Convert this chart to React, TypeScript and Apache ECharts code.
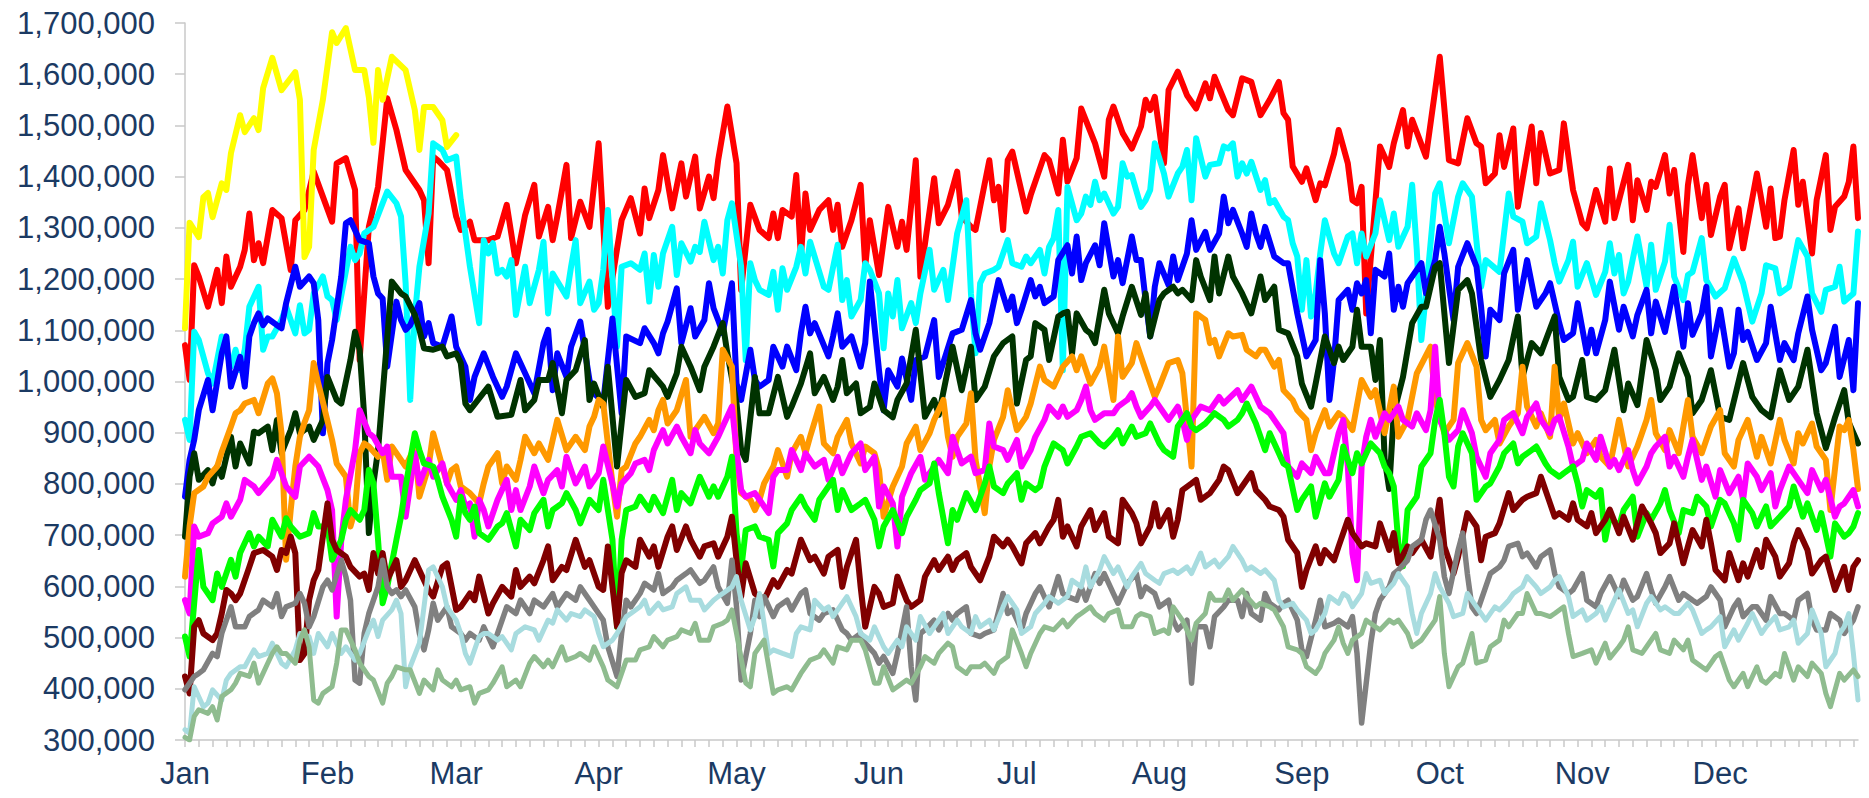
import React, { useEffect, useRef } from "react";
import * as echarts from "echarts";

// Month labels and the day-of-year on which each month starts
const MONTHS = ["Jan", "Feb", "Mar", "Apr", "May", "Jun", "Jul", "Aug", "Sep", "Oct", "Nov", "Dec"];
const MONTH_START_DAYS = [0, 31, 59, 90, 120, 151, 181, 212, 243, 273, 304, 334];

// Each series: [day of year, value in thousands]
const yellowData = [[0,1104],[1,1310],[3,1282],[4,1360],[5,1368],[6,1321],[8,1387],[9,1374],[10,1446],[12,1520],[13,1487],[15,1514],[16,1491],[17,1573],[19,1632],[21,1569],[24,1604],[25,1550],[26,1243],[27,1263],[28,1452],[30,1550],[32,1682],[33,1661],[35,1690],[37,1608],[39,1608],[40,1555],[41,1466],[42,1608],[43,1550],[45,1634],[48,1608],[50,1530],[51,1452],[52,1536],[54,1536],[56,1510],[57,1458],[59,1481]];

const redData = [[0,1071],[1,1003],[2,1227],[3,1205],[5,1146],[7,1218],[8,1153],[9,1244],[10,1185],[12,1224],[13,1257],[14,1328],[15,1237],[16,1270],[17,1231],[19,1335],[21,1319],[23,1218],[24,1315],[26,1335],[28,1410],[30,1361],[32,1312],[33,1426],[35,1436],[37,1374],[38,1042],[40,1302],[42,1380],[44,1553],[46,1491],[48,1413],[51,1374],[52,1354],[53,1231],[54,1439],[55,1432],[57,1413],[59,1322],[60,1296],[62,1312],[63,1276],[66,1276],[68,1283],[70,1345],[72,1231],[74,1325],[76,1384],[77,1283],[79,1341],[80,1276],[81,1322],[83,1423],[84,1280],[86,1351],[88,1302],[90,1465],[92,1146],[95,1315],[97,1358],[99,1289],[100,1377],[101,1319],[103,1374],[104,1442],[106,1338],[108,1426],[109,1361],[111,1439],[112,1338],[114,1400],[115,1358],[116,1432],[118,1537],[120,1426],[121,1179],[123,1345],[125,1296],[127,1280],[128,1328],[129,1280],[130,1335],[132,1322],[133,1403],[134,1244],[135,1367],[136,1296],[138,1335],[140,1354],[141,1296],[142,1345],[143,1263],[145,1315],[147,1384],[148,1224],[149,1315],[151,1208],[153,1341],[155,1263],[156,1312],[157,1257],[159,1432],[160,1205],[163,1397],[164,1309],[166,1345],[168,1410],[169,1322],[171,1302],[172,1296],[175,1432],[176,1354],[177,1380],[178,1296],[179,1432],[180,1449],[183,1332],[184,1364],[187,1442],[188,1432],[190,1367],[191,1472],[192,1390],[194,1436],[195,1533],[198,1465],[200,1400],[201,1511],[202,1537],[204,1485],[206,1455],[208,1498],[209,1550],[210,1530],[211,1556],[213,1426],[214,1569],[216,1605],[218,1559],[220,1533],[222,1582],[223,1553],[224,1595],[227,1530],[228,1520],[230,1592],[232,1585],[234,1520],[236,1550],[238,1585],[239,1524],[240,1511],[241,1420],[243,1390],[244,1416],[246,1354],[247,1387],[248,1383],[250,1445],[251,1491],[253,1426],[254,1354],[255,1348],[256,1380],[257,1133],[260,1459],[262,1419],[263,1465],[265,1530],[266,1459],[267,1511],[270,1439],[273,1634],[275,1432],[277,1426],[279,1514],[281,1465],[282,1459],[283,1387],[285,1406],[286,1481],[287,1419],[289,1494],[290,1341],[293,1498],[294,1387],[295,1485],[297,1406],[299,1413],[300,1504],[302,1374],[304,1309],[305,1299],[307,1374],[309,1312],[310,1416],[311,1319],[314,1423],[315,1315],[316,1393],[318,1335],[319,1390],[320,1380],[322,1442],[323,1367],[324,1413],[326,1253],[327,1384],[328,1442],[330,1319],[331,1384],[332,1286],[334,1361],[335,1384],[336,1260],[338,1338],[339,1260],[342,1406],[344,1302],[345,1377],[346,1280],[347,1283],[348,1354],[350,1452],[351,1345],[352,1390],[354,1250],[355,1354],[357,1442],[358,1296],[359,1341],[361,1361],[362,1390],[363,1459],[364,1319]];

const cyanData = [[0,925],[1,886],[2,1097],[3,1081],[5,1016],[6,996],[7,1042],[8,1088],[10,1029],[11,1062],[12,1022],[13,1062],[14,1146],[16,1185],[17,1062],[18,1088],[19,1088],[21,1120],[22,1146],[24,1094],[25,1149],[26,1094],[27,1101],[28,1172],[30,1205],[31,1166],[32,1159],[33,1120],[36,1263],[37,1237],[38,1250],[39,1289],[41,1302],[43,1348],[44,1371],[46,1348],[47,1322],[48,1192],[49,964],[50,1127],[51,1224],[53,1328],[54,1465],[56,1452],[57,1432],[59,1439],[60,1354],[62,1224],[64,1114],[65,1276],[66,1250],[67,1270],[68,1211],[69,1218],[70,1205],[71,1237],[72,1130],[74,1224],[75,1153],[77,1218],[78,1273],[79,1133],[80,1211],[83,1166],[84,1224],[85,1276],[86,1153],[88,1195],[89,1140],[90,1153],[91,1218],[92,1335],[94,1068],[95,1224],[97,1231],[99,1218],[100,1250],[101,1156],[102,1247],[103,1185],[104,1250],[106,1302],[107,1208],[108,1270],[110,1234],[111,1263],[112,1253],[113,1312],[115,1237],[116,1263],[117,1211],[118,1315],[119,1348],[121,1224],[122,1042],[123,1231],[124,1198],[125,1179],[127,1169],[128,1214],[129,1140],[130,1221],[131,1179],[133,1224],[134,1263],[135,1211],[136,1273],[139,1185],[140,1179],[142,1267],[143,1159],[144,1198],[145,1127],[147,1159],[148,1231],[149,1218],[151,1172],[152,1065],[153,1172],[154,1127],[155,1198],[156,1104],[158,1153],[159,1114],[160,1172],[162,1257],[163,1179],[165,1218],[166,1159],[168,1289],[170,1354],[171,1172],[172,1055],[173,1192],[174,1211],[176,1218],[177,1224],[179,1276],[180,1231],[182,1224],[183,1244],[184,1231],[186,1257],[187,1211],[188,1263],[189,1280],[190,1335],[191,1022],[192,1380],[194,1315],[195,1328],[196,1361],[197,1345],[198,1390],[199,1354],[200,1367],[202,1328],[203,1341],[204,1426],[205,1400],[206,1403],[208,1341],[209,1354],[210,1374],[211,1465],[213,1406],[214,1361],[216,1406],[217,1419],[218,1452],[219,1354],[220,1475],[222,1400],[223,1423],[225,1426],[226,1459],[227,1455],[228,1465],[229,1400],[230,1426],[231,1406],[232,1429],[234,1374],[235,1393],[236,1348],[237,1354],[239,1322],[240,1315],[241,1270],[242,1244],[243,1140],[244,1237],[245,1127],[246,1172],[247,1250],[248,1315],[250,1250],[251,1231],[253,1283],[254,1289],[255,1231],[256,1289],[257,1244],[259,1289],[260,1354],[262,1276],[263,1328],[264,1263],[266,1302],[267,1384],[268,1257],[269,1081],[270,1172],[272,1367],[273,1387],[275,1270],[277,1361],[278,1387],[280,1361],[282,1185],[283,1237],[286,1214],[288,1367],[289,1322],[291,1312],[292,1270],[294,1283],[295,1348],[297,1276],[298,1231],[299,1195],[301,1237],[302,1273],[303,1185],[305,1231],[307,1169],[309,1214],[310,1270],[311,1211],[312,1247],[313,1172],[314,1195],[316,1283],[318,1185],[319,1267],[320,1179],[322,1234],[323,1306],[324,1205],[326,1159],[327,1208],[328,1214],[330,1280],[331,1198],[333,1166],[335,1182],[337,1240],[339,1192],[341,1117],[343,1172],[344,1227],[346,1221],[347,1172],[349,1185],[351,1276],[353,1244],[354,1172],[356,1136],[357,1179],[359,1185],[360,1224],[361,1156],[363,1172],[364,1293]];

const blueData = [[0,775],[1,847],[2,886],[3,944],[5,1003],[6,944],[8,1055],[9,1088],[10,990],[12,1048],[13,990],[14,1088],[15,1114],[16,1133],[17,1110],[18,1123],[20,1110],[21,1104],[22,1153],[24,1224],[25,1185],[27,1205],[28,1192],[29,1120],[30,899],[31,1036],[32,1081],[34,1205],[35,1309],[36,1315],[38,1276],[40,1270],[41,1205],[42,1172],[43,1162],[44,1029],[46,1156],[47,1120],[48,1101],[49,1110],[51,1153],[52,1088],[53,1114],[54,1075],[56,1068],[58,1127],[59,1068],[61,1029],[62,964],[63,1009],[65,1055],[67,1009],[69,970],[70,990],[72,1055],[74,1016],[76,977],[78,1075],[79,1101],[80,983],[81,1055],[83,1009],[84,1068],[86,1117],[88,1003],[89,977],[91,960],[93,1123],[95,938],[96,1088],[99,1075],[100,1104],[102,1075],[103,1055],[104,1094],[105,1117],[107,1182],[108,1075],[110,1143],[111,1088],[113,1120],[114,1192],[115,1143],[116,1120],[117,1094],[119,1192],[120,996],[121,964],[123,1062],[124,1003],[125,990],[127,1003],[128,1068],[130,1029],[131,1068],[133,1022],[134,1094],[135,1146],[136,1094],[137,1114],[140,1049],[141,1088],[142,1133],[143,1068],[145,1088],[147,1029],[148,1075],[149,1195],[151,1022],[152,944],[153,1022],[155,990],[156,1045],[158,964],[159,1042],[161,1049],[163,1120],[164,1009],[167,1094],[169,1101],[171,1159],[172,1094],[173,1062],[175,1114],[177,1198],[179,1140],[180,1166],[181,1114],[182,1140],[184,1198],[185,1166],[186,1185],[187,1153],[189,1166],[190,1237],[192,1266],[193,1211],[194,1283],[195,1198],[196,1231],[198,1266],[199,1227],[200,1309],[202,1205],[203,1237],[204,1192],[206,1283],[207,1237],[208,1237],[209,1159],[210,1088],[211,1185],[212,1231],[214,1188],[215,1244],[216,1198],[218,1250],[219,1315],[220,1257],[222,1292],[223,1257],[225,1289],[226,1361],[227,1309],[228,1335],[230,1289],[231,1263],[232,1328],[233,1289],[234,1263],[235,1302],[237,1244],[239,1231],[240,1231],[242,1133],[244,1049],[246,1081],[247,1237],[248,1133],[249,964],[250,1042],[251,1159],[253,1179],[254,1140],[255,1192],[256,1172],[257,1198],[258,1094],[259,1218],[261,1205],[262,1250],[263,1140],[264,1185],[265,1146],[266,1192],[269,1231],[270,1172],[272,1237],[273,1302],[274,1250],[276,1120],[277,1224],[279,1270],[281,1224],[282,1146],[283,1049],[284,1140],[286,1120],[287,1211],[289,1257],[290,1140],[292,1237],[294,1146],[296,1172],[297,1192],[299,1114],[300,1081],[302,1094],[303,1153],[305,1055],[306,1101],[307,1055],[309,1120],[310,1195],[312,1101],[313,1146],[315,1088],[316,1130],[318,1179],[319,1094],[320,1156],[322,1097],[324,1185],[326,1068],[327,1153],[328,1091],[330,1133],[331,1185],[332,1049],[334,1140],[336,1029],[337,1055],[338,1140],[339,1081],[340,1097],[342,1042],[344,1075],[345,1146],[347,1042],[348,1075],[350,1042],[351,1094],[353,1166],[354,1101],[356,1022],[357,1036],[359,1107],[360,1009],[362,1081],[363,983],[364,1153]];

const darkGreenData = [[0,697],[1,814],[2,860],[3,808],[5,827],[6,801],[7,834],[8,814],[10,892],[11,834],[12,879],[14,840],[15,902],[16,899],[18,912],[19,866],[20,925],[21,860],[23,905],[24,938],[25,899],[27,912],[28,886],[30,925],[31,1009],[33,964],[34,957],[36,1042],[37,1097],[38,1062],[39,931],[40,704],[41,801],[42,866],[45,1195],[47,1172],[48,1166],[50,1130],[51,1101],[52,1065],[54,1062],[56,1068],[57,1049],[59,1055],[60,1036],[61,957],[62,944],[66,990],[68,931],[71,935],[73,1003],[74,944],[76,964],[77,1003],[79,1003],[80,1036],[82,938],[83,1003],[85,1022],[87,1081],[88,964],[89,996],[91,950],[92,1029],[94,834],[96,1003],[98,970],[100,977],[101,1022],[104,990],[105,970],[107,1016],[108,1068],[110,1029],[112,983],[113,1029],[115,1068],[117,1114],[118,1055],[120,957],[121,866],[122,847],[124,1009],[125,938],[127,938],[129,1009],[131,931],[132,951],[134,996],[136,1055],[137,977],[139,1009],[141,964],[142,990],[143,1042],[144,977],[146,996],[147,938],[149,950],[150,996],[152,944],[154,930],[155,964],[157,996],[159,1101],[161,931],[163,964],[164,935],[167,1068],[169,983],[171,1068],[172,964],[174,990],[176,1049],[178,1075],[180,1088],[181,957],[183,1042],[184,1049],[185,1114],[187,1101],[188,1042],[190,1127],[191,1133],[192,1136],[193,1055],[194,1133],[196,1101],[197,1094],[198,1075],[200,1179],[201,1133],[203,1094],[204,1127],[206,1185],[208,1130],[209,1172],[210,1088],[212,1159],[213,1172],[215,1185],[216,1172],[217,1179],[219,1159],[220,1237],[221,1205],[223,1159],[224,1244],[225,1172],[227,1244],[228,1205],[230,1172],[232,1133],[234,1205],[235,1159],[237,1185],[238,1101],[240,1094],[242,1049],[243,996],[245,951],[246,996],[248,1088],[250,1036],[251,1068],[252,1042],[254,1068],[255,1140],[256,1068],[258,1068],[259,1003],[260,1081],[261,850],[262,790],[263,938],[265,1009],[267,1114],[269,1146],[270,1146],[272,1224],[273,1231],[275,1036],[277,1179],[279,1198],[280,1172],[282,1042],[284,970],[286,1003],[288,1042],[290,1127],[291,1009],[293,1075],[295,1055],[298,1127],[299,1009],[301,964],[302,970],[304,1042],[305,970],[307,964],[309,983],[311,1062],[313,944],[314,996],[316,954],[318,1081],[320,1022],[321,964],[323,990],[325,1055],[327,1009],[328,938],[330,964],[332,1022],[334,931],[336,925],[339,1036],[341,970],[343,944],[345,930],[347,1022],[349,964],[351,990],[353,1062],[355,938],[357,870],[359,930],[361,983],[362,920],[364,879]];

const orangeData = [[0,619],[1,717],[2,782],[4,795],[5,814],[7,834],[8,863],[10,912],[11,938],[12,944],[13,957],[15,964],[16,938],[18,996],[19,1006],[20,977],[21,899],[22,652],[23,749],[24,834],[25,892],[26,920],[27,944],[28,1036],[29,996],[30,960],[32,886],[33,840],[35,814],[36,717],[37,749],[38,860],[39,879],[40,873],[42,853],[43,866],[44,808],[45,873],[47,847],[48,834],[50,873],[51,775],[53,834],[54,899],[56,834],[57,801],[58,827],[59,834],[60,795],[62,782],[64,762],[65,801],[66,834],[68,860],[69,801],[70,834],[72,808],[73,847],[74,892],[76,860],[77,879],[79,847],[80,886],[81,925],[83,866],[85,892],[87,866],[88,912],[89,931],[90,964],[91,957],[93,801],[94,736],[95,827],[96,834],[98,879],[99,892],[101,925],[102,905],[103,944],[104,964],[105,918],[107,944],[109,1003],[110,892],[111,905],[113,931],[115,899],[116,918],[117,1062],[119,1029],[120,847],[121,782],[123,769],[124,749],[125,769],[126,801],[128,834],[129,866],[131,814],[132,860],[134,892],[135,860],[136,892],[138,951],[139,879],[141,860],[142,892],[144,925],[145,879],[147,840],[148,873],[150,860],[151,827],[152,736],[154,795],[156,834],[157,879],[159,912],[160,866],[162,899],[163,925],[165,964],[166,892],[167,853],[168,892],[170,918],[171,977],[172,847],[174,743],[175,834],[176,886],[178,931],[179,983],[181,905],[183,931],[184,957],[186,1029],[187,1003],[189,990],[191,1029],[193,1049],[194,1022],[195,1049],[197,996],[199,1029],[200,1068],[202,964],[203,1088],[204,1009],[206,1036],[207,1075],[209,1022],[211,970],[212,990],[214,1036],[216,1042],[217,1016],[219,834],[220,1133],[222,1120],[223,1075],[224,1081],[225,1049],[227,1094],[228,1088],[230,1091],[231,1062],[233,1049],[234,1062],[235,1062],[237,1029],[238,1042],[239,983],[241,964],[242,944],[244,925],[245,866],[246,899],[248,944],[249,912],[251,938],[252,931],[254,905],[256,1003],[258,970],[259,983],[261,899],[263,990],[264,892],[266,925],[268,1016],[271,1068],[272,964],[274,899],[276,925],[277,1036],[279,1075],[281,1029],[282,925],[283,905],[285,925],[286,879],[288,912],[290,938],[291,1029],[292,951],[294,912],[295,938],[297,892],[298,1029],[299,925],[300,957],[302,879],[303,899],[305,860],[307,886],[308,853],[310,834],[312,925],[314,834],[316,873],[318,925],[319,964],[320,899],[322,866],[323,905],[325,860],[327,964],[328,892],[330,860],[332,912],[334,944],[335,860],[337,834],[338,886],[340,925],[342,853],[343,892],[345,840],[347,925],[348,886],[350,840],[351,899],[352,879],[354,918],[355,873],[357,847],[358,749],[360,912],[361,905],[362,925],[363,866],[364,790]];

const magentaData = [[0,573],[1,547],[2,717],[3,697],[5,704],[6,723],[8,736],[9,762],[10,736],[12,769],[13,808],[15,795],[16,782],[19,814],[20,847],[22,795],[24,775],[25,834],[27,853],[29,834],[31,788],[32,749],[33,541],[34,691],[35,769],[37,866],[38,944],[40,899],[41,892],[43,860],[44,873],[45,814],[47,814],[48,736],[50,860],[51,801],[53,847],[54,814],[56,840],[57,801],[59,769],[60,788],[61,756],[62,762],[63,697],[64,769],[65,749],[66,717],[68,769],[70,808],[71,749],[72,788],[73,749],[75,795],[76,834],[78,782],[79,808],[81,827],[82,795],[83,853],[85,801],[87,834],[88,795],[90,821],[91,873],[93,801],[94,756],[95,801],[97,821],[98,840],[100,847],[101,827],[102,866],[104,905],[105,879],[107,912],[108,892],[110,860],[111,905],[112,879],[114,860],[116,892],[117,912],[119,951],[120,866],[121,788],[122,775],[124,782],[125,769],[127,743],[128,814],[129,827],[131,827],[132,866],[134,827],[135,860],[137,834],[139,847],[140,808],[142,853],[143,821],[145,860],[147,879],[148,827],[150,853],[151,756],[152,795],[154,762],[155,678],[156,775],[158,821],[160,853],[161,808],[163,834],[164,847],[166,821],[167,892],[169,840],[171,853],[172,821],[174,827],[175,918],[176,873],[178,866],[179,847],[181,886],[182,834],[184,866],[185,892],[187,925],[188,951],[190,931],[191,951],[192,931],[194,944],[195,964],[196,990],[197,944],[198,925],[200,938],[202,938],[203,951],[205,964],[206,977],[207,951],[208,931],[210,951],[211,964],[213,938],[214,925],[216,951],[217,925],[218,886],[219,925],[221,951],[223,944],[225,970],[226,957],[229,983],[230,964],[232,990],[234,951],[236,938],[237,925],[239,899],[240,834],[242,814],[243,840],[245,821],[246,853],[248,821],[249,821],[251,899],[252,925],[253,834],[254,664],[255,612],[256,834],[257,892],[258,925],[259,892],[261,938],[262,925],[264,951],[265,925],[267,912],[268,938],[270,905],[271,944],[272,1068],[273,925],[275,886],[277,905],[278,944],[280,899],[281,853],[283,814],[284,860],[286,886],[287,925],[289,938],[291,899],[292,931],[294,957],[295,925],[297,899],[298,925],[299,931],[301,873],[302,834],[304,847],[305,879],[307,847],[308,892],[310,834],[311,847],[312,827],[314,866],[315,827],[316,801],[318,834],[319,860],[320,873],[322,892],[323,834],[324,853],[326,814],[327,853],[328,886],[330,808],[331,834],[333,775],[334,827],[336,782],[338,814],[339,769],[340,840],[342,814],[343,788],[345,821],[346,756],[347,788],[349,834],[351,808],[353,782],[354,827],[356,788],[357,808],[359,736],[360,756],[361,762],[363,788],[364,756]];

const greenData = [[0,502],[1,463],[2,567],[3,671],[4,599],[6,573],[7,625],[8,599],[10,652],[11,619],[12,665],[14,704],[15,678],[16,697],[18,678],[19,730],[21,697],[22,733],[23,717],[25,697],[27,704],[28,743],[29,717],[31,717],[32,652],[34,691],[35,730],[36,749],[38,730],[39,749],[40,827],[41,801],[42,691],[43,567],[44,599],[46,691],[47,736],[48,795],[50,899],[51,866],[52,840],[54,834],[55,808],[56,775],[58,730],[59,697],[60,775],[61,743],[62,730],[63,756],[64,704],[66,691],[68,717],[69,723],[70,743],[72,678],[73,730],[75,710],[76,743],[78,769],[79,717],[80,749],[82,762],[83,782],[85,749],[86,723],[88,769],[90,749],[91,808],[93,691],[94,521],[95,691],[96,749],[98,756],[99,775],[101,749],[102,775],[104,743],[106,808],[107,749],[108,782],[110,762],[112,814],[114,775],[115,795],[116,775],[118,814],[119,853],[120,704],[121,632],[122,710],[124,717],[125,697],[127,691],[128,639],[129,704],[131,723],[132,749],[134,775],[135,756],[137,730],[138,769],[140,795],[141,808],[142,749],[143,788],[145,749],[147,762],[148,769],[150,730],[151,678],[152,717],[154,749],[156,704],[157,736],[159,769],[160,788],[162,801],[163,840],[164,782],[166,684],[167,749],[168,730],[170,782],[172,749],[174,801],[175,834],[176,795],[178,782],[179,801],[181,821],[182,769],[183,801],[185,788],[186,795],[187,834],[189,879],[191,866],[192,840],[194,873],[195,892],[197,899],[199,879],[200,873],[202,892],[203,905],[204,879],[206,912],[207,892],[209,899],[210,918],[212,879],[213,866],[215,853],[216,912],[218,938],[219,912],[220,905],[222,918],[224,938],[226,925],[227,912],[229,925],[230,938],[231,957],[233,918],[235,866],[236,899],[238,860],[239,840],[240,834],[242,749],[243,769],[245,795],[246,736],[248,801],[249,775],[251,808],[252,873],[254,821],[255,860],[256,840],[258,879],[260,860],[261,834],[262,821],[263,795],[264,684],[265,639],[266,749],[268,775],[269,834],[271,860],[272,925],[273,964],[274,899],[275,814],[276,795],[277,873],[278,899],[280,860],[281,769],[283,795],[284,801],[286,834],[287,860],[289,879],[290,840],[291,853],[293,866],[294,873],[296,840],[297,827],[299,814],[300,821],[302,834],[303,801],[304,756],[305,788],[307,775],[308,788],[309,691],[310,736],[312,717],[313,749],[315,775],[316,697],[318,743],[319,730],[321,762],[322,788],[323,749],[325,704],[326,749],[328,743],[329,775],[331,756],[332,717],[334,769],[335,762],[337,723],[338,691],[339,769],[341,743],[342,717],[344,756],[345,717],[347,736],[349,756],[350,795],[352,736],[353,762],[355,710],[356,743],[358,658],[359,723],[361,697],[362,704],[363,717],[364,743]];

const maroonData = [[0,424],[1,391],[2,521],[3,534],[4,508],[6,495],[7,508],[8,547],[9,593],[10,586],[11,573],[12,586],[14,638],[15,665],[17,671],[19,658],[20,632],[21,671],[22,665],[23,697],[24,665],[25,456],[26,469],[27,573],[28,612],[29,632],[31,762],[32,691],[33,671],[35,658],[36,638],[38,619],[39,625],[40,593],[41,665],[42,625],[43,665],[44,612],[46,651],[47,599],[48,612],[50,651],[52,612],[53,593],[54,580],[56,638],[57,645],[59,554],[60,560],[62,586],[63,573],[64,619],[66,547],[67,567],[69,599],[71,580],[72,632],[73,599],[75,619],[76,606],[78,651],[79,678],[80,612],[82,638],[83,632],[85,691],[87,638],[88,651],[90,599],[91,593],[92,678],[94,521],[95,626],[96,651],[98,638],[99,691],[101,658],[102,678],[103,638],[105,697],[106,717],[107,671],[109,717],[110,691],[112,658],[113,678],[115,684],[116,658],[118,697],[119,736],[120,651],[121,580],[122,645],[124,586],[126,573],[128,612],[129,599],[131,632],[132,625],[134,691],[136,651],[137,658],[139,625],[140,658],[142,671],[143,599],[144,638],[146,691],[147,599],[148,521],[150,599],[151,586],[152,560],[154,567],[155,619],[157,573],[158,560],[160,573],[161,619],[163,651],[164,632],[166,658],[167,632],[168,651],[170,665],[171,638],[173,612],[175,658],[176,697],[178,678],[179,691],[180,678],[182,645],[183,684],[185,704],[186,684],[188,717],[189,730],[190,769],[191,697],[192,717],[194,678],[195,717],[197,749],[198,710],[200,743],[201,697],[203,684],[204,769],[206,743],[207,723],[208,684],[210,717],[211,762],[212,717],[214,749],[215,697],[216,730],[217,788],[219,801],[220,808],[221,769],[223,782],[224,795],[225,808],[226,834],[227,827],[229,782],[230,795],[232,821],[233,788],[235,769],[236,756],[238,749],[239,736],[240,691],[242,665],[243,599],[244,632],[246,678],[247,645],[248,671],[250,651],[251,678],[253,730],[254,704],[255,691],[256,678],[257,684],[259,678],[260,723],[262,671],[263,704],[264,645],[266,678],[267,665],[269,691],[271,658],[273,769],[274,678],[276,625],[277,658],[279,743],[281,717],[282,651],[283,697],[285,704],[286,723],[288,782],[289,749],[291,769],[292,775],[294,782],[295,814],[297,762],[298,736],[299,743],[301,730],[302,762],[303,730],[305,717],[306,743],[307,704],[309,730],[310,750],[312,704],[313,736],[315,691],[316,723],[317,756],[319,723],[320,704],[321,665],[323,684],[324,723],[326,645],[327,678],[328,710],[330,678],[331,730],[332,684],[333,632],[335,612],[336,665],[338,612],[339,645],[340,619],[342,671],[343,638],[344,691],[346,658],[347,619],[349,645],[350,684],[351,710],[353,671],[354,625],[356,651],[357,658],[359,593],[361,638],[362,593],[363,638],[364,651]];

const grayData = [[0,398],[2,424],[3,430],[4,437],[6,469],[7,463],[8,508],[9,534],[10,560],[11,521],[13,521],[14,541],[16,554],[17,573],[19,560],[20,586],[21,541],[22,560],[24,567],[25,586],[26,567],[27,521],[28,541],[30,599],[31,612],[32,593],[34,651],[35,619],[36,573],[37,417],[38,411],[39,508],[40,547],[42,599],[43,651],[44,599],[45,586],[46,593],[47,580],[48,593],[50,560],[51,508],[52,476],[53,515],[54,567],[55,534],[57,560],[58,521],[60,508],[61,495],[62,508],[64,495],[65,521],[67,482],[68,508],[70,560],[72,547],[73,573],[75,547],[76,573],[78,560],[80,586],[81,560],[83,586],[85,573],[86,599],[88,573],[90,547],[91,534],[92,482],[94,424],[95,508],[96,573],[97,560],[99,586],[100,606],[102,593],[103,625],[104,586],[106,599],[107,612],[109,625],[110,632],[112,606],[113,612],[115,638],[116,599],[118,567],[119,651],[120,560],[121,417],[123,508],[124,573],[125,541],[126,580],[128,541],[129,560],[131,573],[132,554],[134,586],[135,593],[136,547],[138,534],[139,547],[141,554],[143,515],[144,508],[145,495],[147,508],[148,489],[150,469],[151,450],[152,463],[154,430],[155,469],[157,560],[158,443],[159,378],[160,508],[161,515],[163,534],[164,515],[166,547],[167,534],[168,547],[170,560],[171,508],[173,502],[174,508],[176,515],[178,586],[179,547],[180,554],[182,515],[183,547],[185,586],[186,599],[188,560],[190,619],[191,586],[192,580],[194,573],[195,599],[196,573],[198,625],[199,606],[200,625],[202,586],[203,567],[205,606],[207,625],[208,580],[209,599],[211,586],[212,560],[214,573],[215,534],[216,515],[218,534],[219,411],[220,521],[222,521],[223,482],[224,541],[226,560],[227,573],[229,573],[230,541],[231,586],[232,547],[234,534],[235,586],[236,567],[238,554],[239,567],[240,573],[242,534],[243,476],[244,463],[246,534],[247,573],[248,521],[250,528],[251,534],[253,521],[254,541],[255,469],[256,333],[258,489],[259,547],[260,573],[262,599],[263,625],[264,632],[266,651],[267,678],[269,691],[270,730],[271,749],[273,691],[274,619],[275,586],[277,671],[278,704],[279,625],[280,560],[281,547],[283,599],[284,625],[286,638],[287,651],[288,678],[290,684],[291,658],[292,665],[294,638],[295,658],[297,671],[298,625],[299,599],[301,586],[302,593],[304,625],[305,573],[307,560],[308,586],[310,619],[312,580],[313,612],[315,573],[316,580],[318,625],[319,593],[320,567],[322,599],[323,619],[325,573],[326,586],[328,573],[329,567],[331,580],[332,599],[334,573],[335,521],[337,560],[338,573],[339,541],[341,560],[342,560],[344,534],[345,580],[347,547],[348,547],[350,534],[351,573],[353,586],[354,534],[355,515],[357,515],[358,547],[360,534],[361,508],[363,534],[364,560]];

const lightBlueData = [[0,320],[1,313],[2,404],[4,365],[5,372],[6,398],[8,378],[9,417],[10,430],[12,443],[13,443],[15,476],[16,463],[18,469],[19,489],[21,450],[22,443],[24,476],[25,508],[27,502],[28,469],[29,508],[31,482],[32,508],[34,469],[35,482],[37,456],[38,469],[40,515],[41,534],[42,502],[43,534],[45,554],[46,573],[47,547],[48,404],[49,443],[51,489],[52,560],[53,632],[54,638],[56,599],[57,560],[59,534],[60,508],[61,469],[62,450],[64,502],[65,508],[66,508],[68,495],[69,502],[71,476],[72,508],[74,521],[76,515],[77,495],[79,534],[80,528],[81,554],[83,534],[84,547],[86,541],[87,554],[89,541],[90,508],[91,482],[93,495],[94,508],[96,541],[97,547],[99,560],[100,573],[101,547],[103,567],[104,554],[106,560],[107,586],[109,599],[110,573],[112,573],[113,554],[115,573],[116,580],[117,586],[119,599],[120,619],[121,573],[123,515],[124,541],[125,586],[127,469],[128,476],[130,469],[132,463],[133,508],[134,521],[136,515],[137,573],[139,554],[140,560],[141,541],[143,567],[144,580],[146,541],[147,508],[149,495],[150,521],[152,482],[153,469],[155,495],[156,482],[157,521],[159,495],[160,541],[162,508],[163,521],[165,547],[166,508],[168,534],[169,521],[171,508],[172,541],[173,521],[175,534],[176,515],[178,560],[179,580],[181,554],[182,508],[184,521],[185,547],[187,567],[188,580],[190,567],[192,580],[193,612],[195,599],[196,638],[197,599],[199,632],[200,658],[202,625],[203,638],[205,599],[206,619],[208,645],[209,625],[211,612],[212,606],[213,625],[215,632],[216,625],[218,638],[219,625],[221,665],[222,638],[224,651],[225,638],[227,658],[228,678],[230,651],[231,632],[232,638],[234,625],[235,632],[237,612],[238,573],[239,560],[241,567],[242,554],[244,534],[245,508],[246,515],[248,547],[249,580],[251,567],[252,586],[253,580],[254,560],[256,586],[257,625],[258,606],[260,612],[261,586],[263,606],[264,625],[266,599],[267,547],[268,508],[269,547],[271,586],[272,625],[273,599],[275,567],[276,541],[278,547],[279,586],[281,560],[282,547],[283,534],[285,560],[286,554],[288,573],[289,586],[291,599],[292,619],[294,599],[295,586],[297,599],[298,612],[299,619],[301,580],[302,541],[304,554],[305,534],[307,547],[308,560],[309,534],[310,554],[312,593],[314,547],[315,554],[316,521],[318,567],[319,580],[321,554],[322,560],[324,547],[325,547],[327,567],[328,554],[330,508],[331,515],[332,521],[334,541],[335,482],[337,515],[338,495],[340,528],[341,547],[343,508],[344,521],[346,541],[347,515],[349,521],[350,534],[351,489],[353,508],[354,554],[356,508],[357,443],[359,469],[360,508],[361,521],[362,547],[363,469],[364,378]];

const sageData = [[0,305],[1,300],[2,346],[3,359],[5,352],[6,365],[7,339],[8,385],[10,398],[11,411],[12,430],[14,424],[15,450],[16,411],[18,450],[19,469],[20,482],[21,469],[22,469],[24,450],[25,495],[26,515],[27,482],[28,378],[29,372],[30,391],[32,404],[33,450],[34,515],[35,515],[37,476],[38,450],[40,424],[41,417],[43,372],[44,411],[45,424],[46,443],[48,437],[49,437],[51,391],[52,417],[54,398],[55,437],[56,417],[58,404],[59,417],[60,398],[62,404],[63,372],[64,391],[66,398],[67,411],[69,443],[70,404],[72,417],[73,404],[75,450],[76,463],[78,443],[79,456],[80,443],[82,482],[83,456],[85,463],[86,469],[88,456],[89,482],[91,443],[92,417],[94,404],[95,430],[96,456],[98,456],[99,476],[101,482],[102,502],[104,482],[105,495],[107,502],[108,515],[110,508],[111,528],[112,495],[114,495],[115,521],[117,528],[118,534],[119,554],[120,508],[122,411],[123,404],[124,469],[126,495],[128,391],[129,398],[131,404],[132,398],[134,430],[135,443],[136,456],[138,463],[139,476],[141,450],[142,482],[144,476],[145,495],[147,495],[148,476],[150,411],[151,411],[152,443],[154,398],[155,404],[157,417],[158,411],[160,443],[161,463],[163,450],[164,469],[166,489],[167,482],[168,443],[170,430],[171,443],[173,443],[174,450],[176,430],[177,450],[179,463],[180,515],[182,469],[183,443],[184,469],[186,508],[187,521],[189,515],[191,534],[192,521],[194,541],[195,547],[197,560],[198,547],[200,534],[201,547],[203,554],[204,521],[206,521],[207,541],[208,547],[210,541],[211,508],[213,515],[214,508],[215,560],[217,534],[219,495],[220,528],[222,547],[223,586],[224,573],[226,573],[227,593],[228,573],[230,593],[231,580],[233,560],[234,567],[236,560],[237,554],[239,521],[240,482],[242,476],[243,469],[244,443],[246,430],[247,443],[248,469],[250,495],[251,521],[252,489],[253,469],[254,495],[256,508],[257,534],[259,521],[260,515],[262,534],[263,528],[264,534],[266,508],[267,482],[269,495],[270,508],[272,534],[273,580],[274,469],[275,404],[277,443],[278,450],[280,508],[281,450],[283,456],[284,482],[286,495],[287,534],[288,521],[290,547],[291,547],[292,586],[294,547],[295,547],[297,541],[298,547],[300,560],[301,508],[302,463],[304,469],[306,476],[307,450],[309,489],[310,460],[312,482],[313,495],[314,521],[315,476],[317,469],[318,482],[320,508],[321,476],[323,469],[324,495],[326,476],[327,495],[328,456],[330,443],[331,437],[333,463],[334,469],[336,417],[337,404],[339,430],[340,404],[342,443],[343,417],[344,411],[346,430],[347,424],[348,469],[350,417],[351,443],[353,424],[354,450],[356,430],[357,391],[358,365],[360,430],[361,417],[363,437],[364,424]];

// Y axis range and step
const Y_MIN = 300000;
const Y_MAX = 1700000;
const Y_STEP = 100000;

const SERIES = [
  { name: "Red", data: redData, color: "#FF0000", width: 6 },
  { name: "Cyan", data: cyanData, color: "#00FFFF", width: 6 },
  { name: "Blue", data: blueData, color: "#0000FF", width: 6 },
  { name: "Dark green", data: darkGreenData, color: "#003300", width: 6 },
  { name: "Orange", data: orangeData, color: "#FF9900", width: 6 },
  { name: "Magenta", data: magentaData, color: "#FF00FF", width: 6 },
  { name: "Green", data: greenData, color: "#00FF00", width: 6 },
  { name: "Maroon", data: maroonData, color: "#800000", width: 6 },
  { name: "Gray", data: grayData, color: "#808080", width: 5.5 },
  { name: "Light blue", data: lightBlueData, color: "#A8DCDF", width: 5 },
  { name: "Sage", data: sageData, color: "#8FBC8F", width: 5 },
  { name: "Yellow", data: yellowData, color: "#FFFF00", width: 6 },
];

const LABEL_COLOR = "#1B3A63";
const AXIS_COLOR = "#C8C8C8";

export default function App() {
  const ref = useRef<HTMLDivElement>(null);

  useEffect(() => {
    if (!ref.current) return;
    const chart = echarts.init(ref.current, undefined, { renderer: "svg" });
    const tickDays: number[] = [];
    for (let d = 0; d <= 363; d += 3) tickDays.push(d);

    chart.setOption({
      animation: false,
      backgroundColor: "#ffffff",
      grid: { left: 185, right: 11, top: 23, bottom: 58, containLabel: false },
      xAxis: {
        type: "value",
        min: 0,
        max: 364,
        axisLine: { show: true, lineStyle: { color: AXIS_COLOR, width: 1.5 } },
        axisTick: { show: true, customValues: tickDays, length: 7, lineStyle: { color: AXIS_COLOR, width: 1.5 } },
        axisLabel: {
          show: true,
          customValues: MONTH_START_DAYS,
          formatter: (v: number) => {
            const i = MONTH_START_DAYS.indexOf(Math.round(v));
            return i >= 0 ? MONTHS[i] : "";
          },
          color: LABEL_COLOR,
          fontSize: 31,
          fontFamily: "Liberation Sans, Arial, sans-serif",
          margin: 18,
          showMinLabel: true,
          showMaxLabel: true,
        },
        splitLine: { show: false },
      },
      yAxis: {
        type: "value",
        min: Y_MIN,
        max: Y_MAX,
        interval: Y_STEP,
        axisLine: { show: true, lineStyle: { color: AXIS_COLOR, width: 1.5 } },
        axisTick: { show: true, length: 10, lineStyle: { color: AXIS_COLOR, width: 1.5 } },
        axisLabel: {
          color: LABEL_COLOR,
          fontSize: 31,
          fontFamily: "Liberation Sans, Arial, sans-serif",
          margin: 30,
          formatter: (v: number) => v.toLocaleString("en-US"),
        },
        splitLine: { show: false },
      },
      series: SERIES.map((s) => ({
        name: s.name,
        type: "line",
        data: s.data.map(([d, v]) => [d, v * 1000]),
        showSymbol: false,
        symbol: "none",
        smooth: false,
        lineStyle: { color: s.color, width: s.width, join: "round", cap: "round" },
        itemStyle: { color: s.color },
        emphasis: { disabled: true },
      })),
    });

    return () => chart.dispose();
  }, []);

  return (
    <div
      ref={ref}
      style={{ position: "fixed", left: 0, top: 0, width: 1869, height: 798, background: "#fff" }}
    />
  );
}
